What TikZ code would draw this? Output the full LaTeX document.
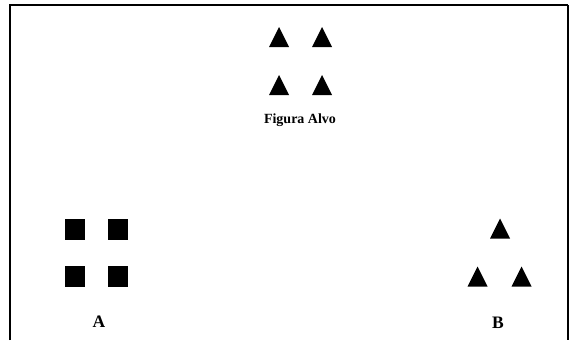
\documentclass[tikz,border=0pt]{standalone}
\usepackage{fontspec}
\setmainfont{Liberation Serif}
\begin{document}
\begin{tikzpicture}[x=1pt,y=-1pt,
  sq/.style={fill=black,draw=none,minimum width=20pt,minimum height=21pt,inner sep=0pt},
  lbl/.style={font=\bfseries\fontsize{17.5}{19}\selectfont,inner sep=0pt},
  captext/.style={font=\bfseries\fontsize{14}{16}\selectfont,inner sep=0pt}]
\useasboundingbox (0,0) rectangle (569,340);
% frame
\coordinate (f1) at (10,340);
\coordinate (f2) at (10,5);
\coordinate (f3) at (568,5);
\coordinate (f4) at (568,340);
\draw[line width=2.5pt] (f1) -- (f2) -- (f3);
\draw[line width=1.8pt] (f3) -- (f4);
% triangle shape
\tikzset{trip/.pic={\fill (-10,10) -- (0,-10) -- (10,10) -- cycle;}}
% target figure
\pic at (279,37) {trip};
\pic at (322,37) {trip};
\pic at (279,85) {trip};
\pic at (322,85) {trip};
\node[captext] (alvo) at (300,120) {Figura Alvo};
% A squares
\node[sq] (s1) at (75,229) {};
\node[sq] (s2) at (118,229) {};
\node[sq] (s3) at (75,276) {};
\node[sq] (s4) at (118,276) {};
\node[lbl] (A) at (99,322) {A};
% B triangles
\pic at (500,228.5) {trip};
\pic at (477.5,276.5) {trip};
\pic at (521.5,276.5) {trip};
\node[lbl] (B) at (498,323) {B};
\end{tikzpicture}
\end{document}
